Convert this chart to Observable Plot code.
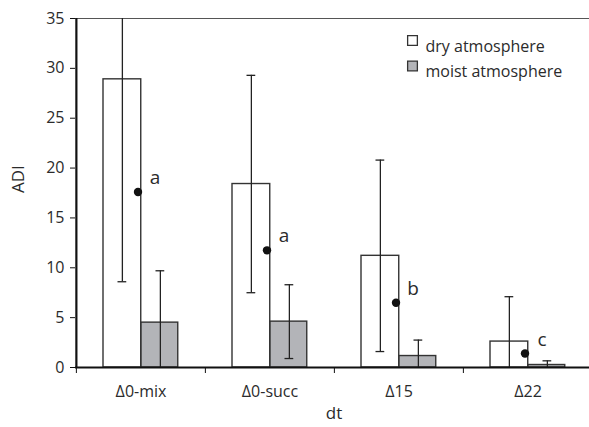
<!DOCTYPE html>
<html>
<head>
<meta charset="utf-8">
<script src="https://cdn.jsdelivr.net/npm/d3@7"></script>
<script src="https://cdn.jsdelivr.net/npm/@observablehq/plot@0.6"></script>
<style>
  html, body { margin: 0; padding: 0; background: #fff; overflow: hidden; }
  #chart svg { display: block; }
</style>
</head>
<body>
<div id="chart"></div>
<script>
const categories = ["Δ0-mix", "Δ0-succ", "Δ15", "Δ22"];
const dryMean = [28.9, 18.4, 11.2, 2.6];
const drySD = [20.3, 10.9, 9.6, 4.5];
const moistMean = [4.5, 4.6, 1.15, 0.25];
const moistSD = [5.2, 3.7, 1.6, 0.42];
const dotValues = [17.6, 11.75, 6.5, 1.4];
const dotLabels = ["a", "a", "b", "c"];
const yTicks = [0, 5, 10, 15, 20, 25, 30, 35];
const seriesNames = ["dry atmosphere", "moist atmosphere"];

const dry = categories.map((c, i) => ({cat: c, v: dryMean[i], lo: dryMean[i] - drySD[i], hi: dryMean[i] + drySD[i]}));
const moist = categories.map((c, i) => ({cat: c, v: moistMean[i], lo: moistMean[i] - moistSD[i], hi: moistMean[i] + moistSD[i]}));
const dots = categories.map((c, i) => ({cat: c, v: dotValues[i], label: dotLabels[i]}));

const W = 589, H = 427;
const mL = 75, mR = -3, mT = 18, mB = 60;
const bw = (W - mL - mR) / categories.length; // band width
const font = "'Open Sans', 'Noto Sans', sans-serif";
const ink = "#2b2b2b";

const chart = Plot.plot({
  width: W,
  height: H,
  marginLeft: mL,
  marginRight: mR,
  marginTop: mT,
  marginBottom: mB,
  style: {fontFamily: font, color: ink, background: "#fff"},
  x: {domain: categories, padding: 0, axis: null},
  y: {domain: [0, 35], axis: null},
  marks: [
    // top border line
    Plot.ruleY([35], {stroke: "#555", strokeWidth: 1.2}),
    // bars
    Plot.barY(dry, {x: "cat", y: "v", fill: "#fff", stroke: "#333", strokeWidth: 1.4, insetLeft: 27, insetRight: bw - 65}),
    Plot.barY(moist, {x: "cat", y: "v", fill: "#b3b4b8", stroke: "#333", strokeWidth: 1.4, insetLeft: 65, insetRight: bw - 102}),
    // error bars
    Plot.ruleX(dry, {x: "cat", y1: "lo", y2: "hi", dx: 46 - bw / 2, stroke: "#222", strokeWidth: 1.3, clip: true}),
    Plot.tickY(dry, {x: "cat", y: "hi", insetLeft: 41.5, insetRight: bw - 50.5, stroke: "#222", strokeWidth: 1.3, clip: true}),
    Plot.tickY(dry, {x: "cat", y: "lo", insetLeft: 41.5, insetRight: bw - 50.5, stroke: "#222", strokeWidth: 1.3, clip: true}),
    Plot.ruleX(moist, {x: "cat", y1: "lo", y2: "hi", dx: 84 - bw / 2, stroke: "#222", strokeWidth: 1.3, clip: true}),
    Plot.tickY(moist, {x: "cat", y: "hi", insetLeft: 79.5, insetRight: bw - 88.5, stroke: "#222", strokeWidth: 1.3, clip: true}),
    Plot.tickY(moist, {x: "cat", y: "lo", insetLeft: 79.5, insetRight: bw - 88.5, stroke: "#222", strokeWidth: 1.3, clip: true}),
    // dots with letters
    Plot.dot(dots, {x: "cat", y: "v", dx: -3, r: 4.2, fill: "#111", stroke: "none"}),
    Plot.text(dots, {x: "cat", y: "v", text: "label", dx: 14, dy: -14, fontSize: 19, fill: ink}),
    // axes lines
    Plot.ruleY([0], {stroke: "#111", strokeWidth: 2.2}),
    Plot.ruleX([categories[0]], {x: d => d, y1: 0, y2: 35, dx: -bw / 2, stroke: "#111", strokeWidth: 2.2}),
    // y axis
    Plot.axisY({ticks: yTicks, tickSize: 5, tickPadding: 6, fontSize: 16, label: null, stroke: "#111", fill: ink}),
    // x axis: boundary ticks and category labels
    Plot.axisX({tickSize: 6, tickFormat: () => "", dx: -bw / 2, label: null, stroke: "#111"}),
    Plot.axisX({tickSize: 0, tickPadding: 18, fontSize: 16, label: null, fill: ink}),
    // axis titles
    Plot.text(["dt"], {frameAnchor: "bottom", dy: 51, fontSize: 17, fill: ink}),
    Plot.text(["ADI"], {frameAnchor: "left", dx: -57, rotate: -90, fontSize: 17, fill: ink}),
    // legend
    Plot.dot([seriesNames[0]], {frameAnchor: "top-left", dx: 337, dy: 22, symbol: "square", r: 5.5, fill: "#fff", stroke: "#333", strokeWidth: 1.3}),
    Plot.dot([seriesNames[1]], {frameAnchor: "top-left", dx: 337, dy: 47.5, symbol: "square", r: 5.5, fill: "#b3b4b8", stroke: "#333", strokeWidth: 1.3}),
    Plot.text([seriesNames[0]], {frameAnchor: "top-left", text: d => d, dx: 350, dy: 22, textAnchor: "start", fontSize: 16, fill: ink}),
    Plot.text([seriesNames[1]], {frameAnchor: "top-left", text: d => d, dx: 350, dy: 47.5, textAnchor: "start", fontSize: 16, fill: ink})
  ]
});
document.getElementById("chart").appendChild(chart);
</script>
</body>
</html>
